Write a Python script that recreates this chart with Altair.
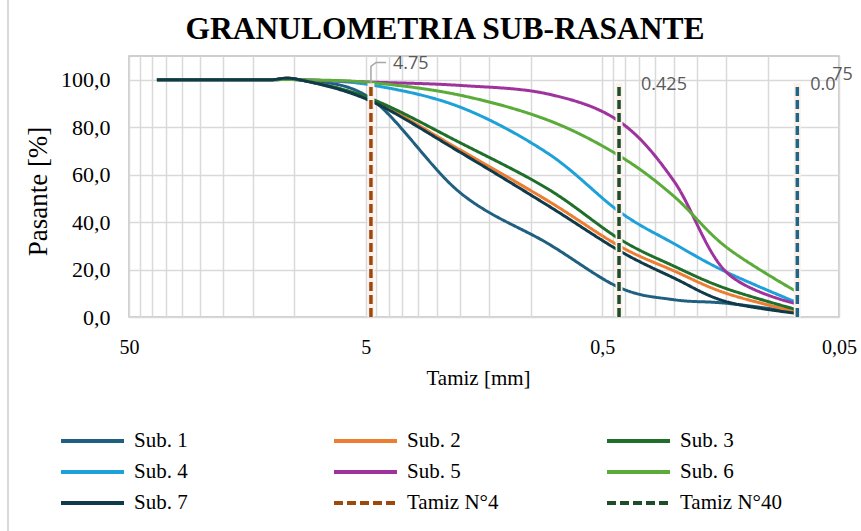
import altair as alt
import pandas as pd

# ---------------- data ----------------
sieves = [38.1, 25.4, 19.05, 12.7, 9.525, 4.75, 2.0, 0.85, 0.425, 0.25, 0.15, 0.075]

sub1 = [100, 100, 100, 100, 100, 92.0, 52.5, 31.0, 12.5, 7.3, 5.8, 2.0]
sub2 = [100, 100, 100, 100, 100, 91.5, 70.5, 49.0, 30.0, 19.5, 10.0, 2.0]
sub3 = [100, 100, 100, 100, 100, 92.0, 73.5, 54.0, 33.0, 21.5, 12.0, 3.0]
sub4 = [100, 100, 100, 100, 100, 97.8, 88.5, 69.0, 44.5, 31.0, 19.0, 6.0]
sub5 = [100, 100, 100, 100, 100, 99.0, 97.6, 94.0, 82.5, 57.5, 19.0, 5.5]
sub6 = [100, 100, 100, 100, 100, 98.8, 93.5, 83.0, 68.0, 51.0, 29.5, 10.5]
sub7 = [100, 100, 100, 100, 100, 91.0, 69.5, 47.0, 28.0, 16.5, 6.5, 1.5]

sub_names = ["Sub. 1", "Sub. 2", "Sub. 3", "Sub. 4", "Sub. 5", "Sub. 6", "Sub. 7"]
sub_values = [sub1, sub2, sub3, sub4, sub5, sub6, sub7]
sub_colors = ["#1f5f7f", "#ed7d31", "#1f6e2a", "#1ea0d8", "#9e339d", "#5aab3a", "#0f3a4a"]

tamiz_names = ["Tamiz N°4", "Tamiz N°40"]
tamiz_sizes = [4.75, 0.425]
tamiz_colors = ["#9e480e", "#1e4d2b"]
tamiz_labels = ["4.75", "0.425"]

tamiz200_size = 0.075
tamiz200_color = "#1f6587"

x_major = [50, 5, 0.5, 0.05]
x_major_labels = ["50", "5", "0,5", "0,05"]
y_ticks = [0, 20, 40, 60, 80, 100]

title_text = "GRANULOMETRIA SUB-RASANTE"
x_title = "Tamiz [mm]"
y_title = "Pasante [%]"

# legend reading order (row by row, 3 per row)
legend_rows = [["Sub. 1", "Sub. 2", "Sub. 3"],
               ["Sub. 4", "Sub. 5", "Sub. 6"],
               ["Sub. 7", "Tamiz N°4", "Tamiz N°40"]]

SERIF = "'Liberation Serif', 'Times New Roman', Times, serif"

# ---------------- tables ----------------
rows = []
for name, vals in zip(sub_names, sub_values):
    for s, v in zip(sieves, vals):
        rows.append({"serie": name, "tamiz": s, "pasante": v})
df = pd.DataFrame(rows)

df_tamiz = pd.DataFrame({"serie": tamiz_names, "tamiz": tamiz_sizes,
                         "y0": [0, 0], "y1": [98.5, 98.5]})
df_t200 = pd.DataFrame({"tamiz": [tamiz200_size], "y0": [0], "y1": [98.5]})
df_all_tamiz = pd.DataFrame({"tamiz": tamiz_sizes + [tamiz200_size],
                             "y0": [0, 0, 0], "y1": [98.5, 98.5, 98.5]})

all_colors = dict(zip(sub_names + tamiz_names, sub_colors + tamiz_colors))
all_dash = {n: [1, 0] for n in sub_names}
all_dash.update({n: [9, 4] for n in tamiz_names})
# Vega fills legend columns top-to-bottom, so transpose the reading order
legend_domain = [legend_rows[r][c] for c in range(3) for r in range(3)]
legend_colors = [all_colors[n] for n in legend_domain]
legend_dash = [all_dash[n] for n in legend_domain]

grid_vals = sorted({round(k * b, 6) for b in [0.05, 0.5, 5] for k in range(1, 10)} | {50})
label_expr = " : ".join(
    f"datum.value == {v} ? '{t}'" for v, t in zip(x_major, x_major_labels)) + " : ''"

xscale = alt.Scale(type="log", domain=[0.05, 50], reverse=True, nice=False)
yscale = alt.Scale(domain=[0, 110], nice=False, zero=False)

x_enc = alt.X("tamiz:Q", scale=xscale, title=x_title,
              axis=alt.Axis(values=grid_vals, labelExpr=label_expr, labelPadding=20,
                            labelFlush=False, labelOverlap=False, labelFontSize=20,
                            titleX=349, titleY=67, titleBaseline="alphabetic",
                            titleFontSize=21))
y_enc = alt.Y("pasante:Q", scale=yscale, title=y_title,
              axis=alt.Axis(values=y_ticks,
                            labelExpr="replace(format(datum.value, '.1f'), '.', ',')",
                            labelPadding=19, labelFontSize=22,
                            titleX=-91, titleY=135, titleBaseline="middle",
                            titleFontSize=27))

legend = alt.Legend(title=None, orient="none", legendX=-70, legendY=374, columns=3,
                    gridAlign="all", columnPadding=96, rowPadding=9,
                    symbolType="stroke", symbolSize=3969, symbolStrokeWidth=4,
                    clipHeight=22, labelFont=SERIF, labelFontSize=21,
                    labelOffset=8, labelColor="black", labelLimit=300)

color_enc = alt.Color("serie:N", scale=alt.Scale(domain=legend_domain, range=legend_colors),
                      legend=legend)
dash_enc = alt.StrokeDash("serie:N", scale=alt.Scale(domain=legend_domain, range=legend_dash),
                          legend=legend)

lines = alt.Chart(df).mark_line(interpolate="cardinal", tension=0, strokeWidth=3).encode(
    x=x_enc, y=y_enc, color=color_enc, strokeDash=dash_enc,
    order=alt.Order("tamiz:Q", sort="descending"))

halo = alt.Chart(df_all_tamiz).mark_rule(strokeWidth=7, color="#fbf1ea").encode(
    x="tamiz:Q", y="y0:Q", y2="y1:Q")

tamiz_rules = alt.Chart(df_tamiz).mark_rule(strokeWidth=3.5).encode(
    x="tamiz:Q", y=alt.Y("y0:Q", scale=yscale), y2="y1:Q",
    color=color_enc, strokeDash=dash_enc)

t200_rule = alt.Chart(df_t200).mark_rule(strokeWidth=3.5, color=tamiz200_color,
                                         strokeDash=[9, 4]).encode(
    x="tamiz:Q", y="y0:Q", y2="y1:Q")

ann_font = dict(font="Open Sans", fontSize=18, color="#595959", align="left", baseline="middle")

leader = alt.Chart(pd.DataFrame({"tamiz": [4.75, 4.75, 4.52, 4.10],
                                 "pasante": [98.6, 105.6, 107.3, 107.3],
                                 "i": [0, 1, 2, 3]})).mark_line(
    color="#a6a6a6", strokeWidth=1.5, clip=False).encode(
    x="tamiz:Q", y="pasante:Q", order="i:Q")

lab475 = alt.Chart(pd.DataFrame({"tamiz": [tamiz_sizes[0]], "pasante": [106.6],
                                 "t": [tamiz_labels[0]]})).mark_text(dx=22, **ann_font).encode(
    x="tamiz:Q", y="pasante:Q", text="t:N")
lab425 = alt.Chart(pd.DataFrame({"tamiz": [tamiz_sizes[1]], "pasante": [97.6],
                                 "t": [tamiz_labels[1]]})).mark_text(dx=22, **ann_font).encode(
    x="tamiz:Q", y="pasante:Q", text="t:N")
lab075a = alt.Chart(pd.DataFrame({"tamiz": [tamiz200_size], "pasante": [97.6],
                                  "t": ["0.0"]})).mark_text(dx=13, **ann_font).encode(
    x="tamiz:Q", y="pasante:Q", text="t:N")
lab075b = alt.Chart(pd.DataFrame({"tamiz": [tamiz200_size], "pasante": [102.0],
                                  "t": ["75"]})).mark_text(dx=35, **ann_font).encode(
    x="tamiz:Q", y="pasante:Q", text="t:N")

title_mark = alt.Chart(pd.DataFrame({"t": [title_text]})).mark_text(
    font=SERIF, fontSize=31.5, fontWeight="bold", color="black",
    align="center", baseline="alphabetic").encode(
    x=alt.value(316), y=alt.value(-17), text="t:N")

frame_line = alt.Chart(pd.DataFrame({"a": [0]})).mark_rule(color="#d9d9d9", strokeWidth=2).encode(
    x=alt.value(-121), y=alt.value(-56), y2=alt.value(475))

chart = alt.layer(
    lines, halo, tamiz_rules, t200_rule, leader, lab475, lab425, lab075a, lab075b,
    title_mark, frame_line
).properties(
    width=710, height=261,
    padding={"left": 129, "top": 56, "right": 22, "bottom": 214},
    autosize=alt.AutoSizeParams(type="none"),
    background="white",
).configure_view(
    stroke="#bfbfbf", strokeWidth=1.5
).configure_axis(
    gridColor="#d9d9d9", gridWidth=1.5, domain=False, ticks=False,
    labelFont=SERIF, labelFontSize=19, labelColor="black",
    titleFont=SERIF, titleFontSize=22, titleFontWeight="normal", titleColor="black"
)

chart.save("out.html", embed_options={"renderer": "svg", "actions": False})
